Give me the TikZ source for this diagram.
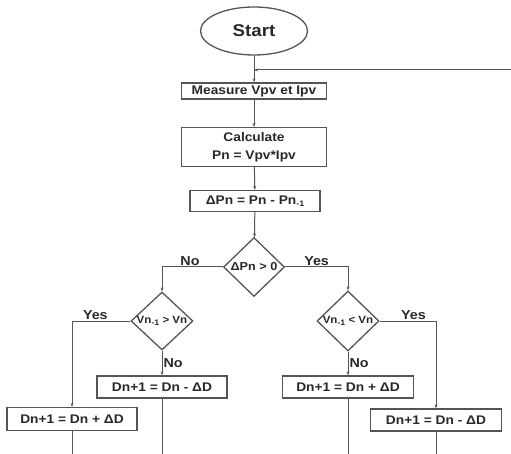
\documentclass[tikz,border=0pt]{standalone}
\usepackage{fontspec}
\setmainfont{Liberation Sans}[FakeStretch=1.1]
\usetikzlibrary{positioning, arrows.meta, shapes.geometric}
\definecolor{flowgray}{RGB}{85, 85, 85}
\definecolor{textgray}{RGB}{40, 40, 40}
\newcommand{\lowidx}[1]{\raisebox{-0.25ex}{\fontsize{8}{8}\selectfont #1}}

\begin{document}
\begin{tikzpicture}[
    x=1pt, y=-1pt,
    box/.style={rectangle, draw=flowgray, line width=1.3pt, minimum height=16pt,
                inner sep=0pt, align=center, fill=white, text=textgray,
                font=\bfseries\fontsize{12.5}{18}\selectfont},
    decision/.style={diamond, draw=flowgray, line width=1.3pt, minimum width=61pt,
                minimum height=59pt, inner sep=0pt, fill=white},
    terminal/.style={ellipse, draw=flowgray, line width=1.3pt, minimum width=107pt,
                minimum height=48pt, text=textgray, font=\bfseries\fontsize{17}{20}\selectfont},
    arrow/.style={-{Stealth[length=4pt, width=3pt]}, line width=1pt, draw=flowgray},
    line/.style={line width=1pt, draw=flowgray},
    tag/.style={inner sep=1pt, text=textgray, font=\bfseries\fontsize{13}{15}\selectfont}
  ]
    \useasboundingbox (0,0) rectangle (511,454);

    \node[terminal] (start) at (254,31) {Start};
    \node[box, minimum width=145pt] (meas) at (254,91) {Measure Vpv et Ipv};
    \node[box, minimum width=145pt, minimum height=39pt] (calc) at (254,147)
        {Calculate\\Pn = Vpv*Ipv};
    \node[box, minimum width=130pt, minimum height=21pt] (dpn) at (255,201)
        {ΔPn = Pn - Pn\lowidx{-1}};

    \node[decision, label={[text=textgray, font=\bfseries\fontsize{11.5}{12}\selectfont]center:ΔPn > 0}]
        (dec) at (254,267) {};
    \node[decision, minimum width=62pt, minimum height=58pt,
          label={[text=textgray, font=\bfseries\fontsize{10.5}{11}\selectfont]center:Vn\lowidx{-1} > Vn}]
        (decl) at (162,321) {};
    \node[decision, minimum width=62pt, minimum height=60pt,
          label={[text=textgray, font=\bfseries\fontsize{10.5}{11}\selectfont]center:Vn\lowidx{-1} < Vn}]
        (decr) at (348,321) {};

    \node[box, minimum width=130pt, minimum height=22pt] (decA) at (162,387) {Dn+1 = Dn - ΔD};
    \node[box, minimum width=130pt, minimum height=23pt] (incA) at (72,419) {Dn+1 = Dn + ΔD};
    \node[box, minimum width=131pt, minimum height=22pt] (incB) at (348,387) {Dn+1 = Dn + ΔD};
    \node[box, minimum width=131pt, minimum height=22pt] (decB) at (436,420) {Dn+1 = Dn - ΔD};

    % loop back
    \coordinate (join) at (254,70);
    \coordinate (loop) at (511,70);
    \coordinate (endA) at (72,454);
    \coordinate (endB) at (162,454);
    \coordinate (endC) at (348,454);
    \coordinate (endD) at (436,454);

    \draw[arrow] (start) -- (meas);
    \draw[arrow] (loop) -- (join);
    \draw[arrow] (meas) -- (calc);
    \draw[arrow] (calc) -- (dpn);
    \draw[arrow] (dpn) -- (dec);

    \draw[arrow] (dec.west) -| node[tag, above, pos=0.27] {No} (decl.north);
    \draw[arrow] (dec.east) -| node[tag, above, pos=0.25] {Yes} (decr.north);
    \draw[arrow] (decl.west) -| node[tag, above, pos=0.3] {Yes} (incA.north);
    \draw[arrow] (decl.south) -- node[tag, right] {No} (decA.north);
    \draw[arrow] (decr.east) -| node[tag, above, pos=0.3] {Yes} (decB.north);
    \draw[arrow] (decr.south) -- node[tag, right] {No} (incB.north);

    \draw[line] (incA) -- (endA);
    \draw[line] (decA) -- (endB);
    \draw[line] (incB) -- (endC);
    \draw[line] (decB) -- (endD);
  \end{tikzpicture}
\end{document}
